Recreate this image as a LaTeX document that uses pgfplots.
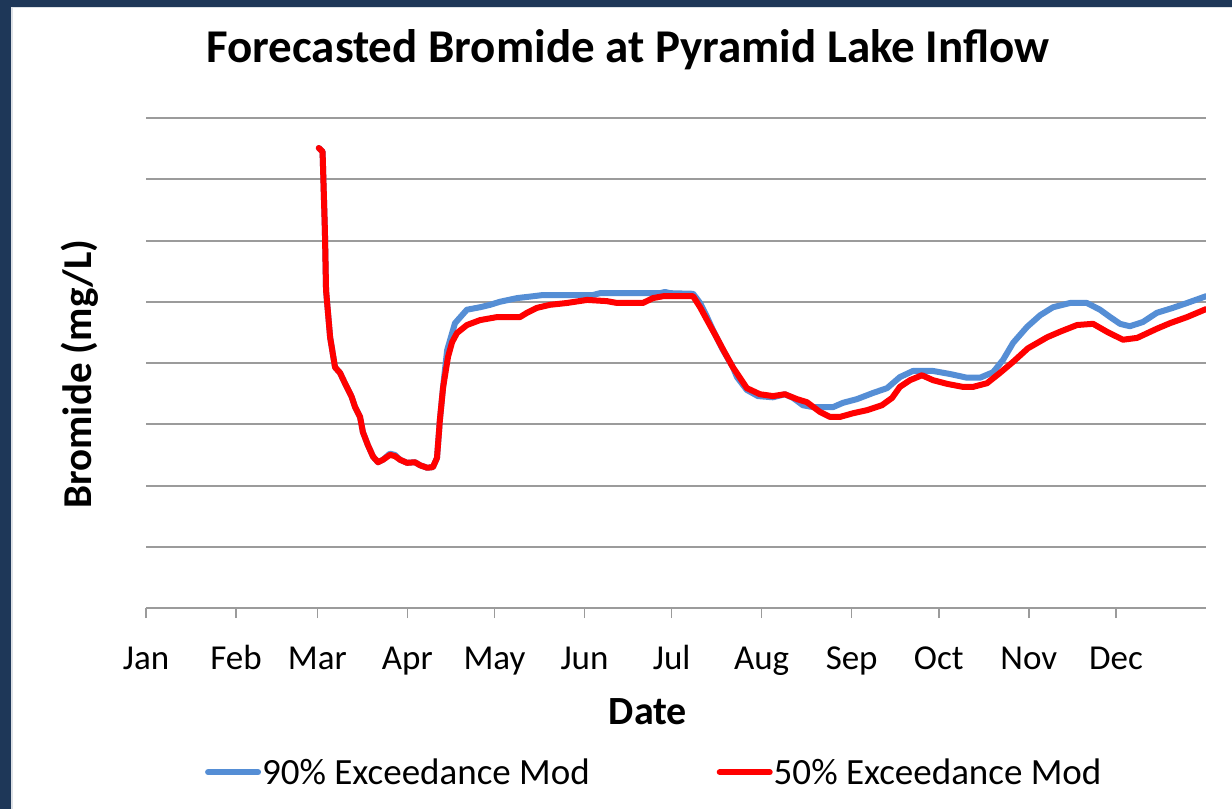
\documentclass[border=0pt]{standalone}
\usepackage{pgfplots}
\pgfplotsset{compat=1.18}
\usepackage{fontspec}
\setmainfont{Carlito}
\definecolor{navy}{RGB}{30,55,88}
\definecolor{serblue}{RGB}{85,142,213}
\definecolor{serred}{RGB}{255,0,0}
\definecolor{gridgray}{RGB}{155,155,155}

\pgfplotstableread{
d v
59.5 7.51
60.8 7.45
61.6 6.17
62.0 5.19
63.4 4.42
65.1 3.93
66.8 3.84
68.5 3.67
70.8 3.45
72.0 3.28
73.7 3.12
74.7 2.87
76.4 2.66
78.2 2.47
79.9 2.38
81.6 2.42
84.0 2.52
85.7 2.50
87.5 2.42
89.9 2.37
92.6 2.38
94.4 2.33
96.8 2.29
98.8 2.30
100.2 2.45
101.2 3.07
102.3 3.61
103.7 4.21
106.4 4.65
110.5 4.87
115.0 4.91
118.5 4.95
121.9 5.00
127.8 5.06
133.3 5.09
136.7 5.11
153.9 5.11
156.3 5.14
177.0 5.14
178.7 5.16
180.4 5.14
188.4 5.13
190.8 4.98
193.2 4.75
195.2 4.54
198.7 4.21
202.1 3.93
203.5 3.77
206.9 3.56
210.7 3.46
215.9 3.44
220.0 3.49
222.8 3.43
226.2 3.31
229.7 3.28
236.6 3.28
240.0 3.35
244.8 3.41
250.3 3.51
255.2 3.59
259.6 3.77
264.1 3.87
271.0 3.87
276.9 3.82
282.7 3.76
287.2 3.76
291.7 3.85
295.1 4.05
298.6 4.33
303.4 4.59
307.9 4.78
312.3 4.91
318.2 4.98
324.0 4.98
328.5 4.87
332.0 4.75
335.4 4.64
338.8 4.60
343.3 4.67
348.1 4.82
353.6 4.90
358.5 4.98
365.0 5.09
}\blueData

\pgfplotstableread{
d v
59.5 7.51
60.8 7.45
61.6 6.17
62.0 5.19
63.4 4.42
65.1 3.93
66.8 3.84
68.5 3.67
70.8 3.45
72.0 3.28
73.7 3.12
74.7 2.87
76.4 2.66
78.2 2.47
79.9 2.38
81.6 2.42
84.0 2.50
85.7 2.48
87.5 2.42
89.9 2.37
92.6 2.38
94.4 2.33
96.8 2.29
98.8 2.30
100.2 2.45
101.2 3.07
102.3 3.60
104.0 4.10
105.4 4.34
107.1 4.49
110.5 4.62
115.0 4.70
120.9 4.75
128.8 4.75
131.2 4.82
134.6 4.90
139.1 4.95
145.0 4.98
151.9 5.03
158.7 5.01
162.2 4.98
171.1 4.98
174.6 5.06
178.0 5.09
188.4 5.09
190.8 4.91
193.2 4.70
196.0 4.46
199.4 4.16
202.1 3.93
206.9 3.59
211.4 3.49
215.9 3.46
220.0 3.49
224.2 3.41
227.6 3.36
232.1 3.20
235.5 3.12
239.0 3.12
243.5 3.18
248.3 3.23
253.4 3.31
256.9 3.43
259.6 3.61
263.1 3.72
267.2 3.80
271.0 3.72
275.8 3.66
281.3 3.61
284.8 3.61
289.6 3.67
294.1 3.84
298.6 4.02
303.7 4.24
310.3 4.42
314.7 4.51
320.6 4.62
326.1 4.64
330.9 4.51
336.4 4.38
341.3 4.41
348.1 4.56
352.6 4.65
358.5 4.75
365.0 4.88
}\redData

\begin{document}
\begin{tikzpicture}
\path[use as bounding box] (0pt,0pt) rectangle (1232pt,809pt);
\fill[navy] (0pt,0pt) rectangle (1232pt,809pt);
\fill[white!85!navy] (11pt,0pt) rectangle (1232pt,802pt);
\fill[white] (12.5pt,0pt) rectangle (1232pt,800.5pt);
\begin{axis}[
  at={(146pt,201pt)}, anchor=south west,
  width=1060pt, height=490pt, scale only axis,
  xmin=0, xmax=365, ymin=0, ymax=8,
  axis x line*=bottom, axis y line*=left,
  y axis line style={draw=none},
  x axis line style={draw=gridgray, line width=2pt},
  xtick={0,31,59,90,120,151,181,212,243,273,304,334},
  xticklabels={Jan,Feb,Mar,Apr,May,Jun,Jul,Aug,Sep,Oct,Nov,Dec},
  tick align=outside,
  major tick length=10pt,
  xtick style={draw=gridgray, line width=1.5pt},
  ytick={0,1,...,8}, yticklabels={},
  ytick style={draw=none},
  ymajorgrids,
  grid style={draw=gridgray, line width=2pt},
  xticklabel style={font=\fontsize{35}{40}\selectfont, anchor=north, text height=24pt, text depth=8pt, yshift=-24pt},
  legend style={at={(0.479,-0.335)}, anchor=center, legend columns=2, draw=none, fill=none,
    font=\fontsize{37}{40}\selectfont,
    nodes={inner xsep=1pt},
    /tikz/every even column/.append style={column sep=126pt}},
  legend image code/.code={\draw[#1] (0pt,0pt) -- (50pt,0pt);},
]
\addplot[serblue, line width=6pt, line join=round, line cap=round] table[x=d,y=v] {\blueData};
\addlegendentry{90\% Exceedance Mod}
\addplot[serred, line width=6pt, line join=round, line cap=round] table[x=d,y=v] {\redData};
\addlegendentry{50\% Exceedance Mod}
\end{axis}
\node[font=\bfseries\fontsize{47}{50}\selectfont] at (628pt,759pt) {Forecasted Bromide at Pyramid Lake Inflow};
\node[font=\bfseries\fontsize{41}{44}\selectfont, rotate=90] at (80pt,435pt) {Bromide (mg/L)};
\node[font=\bfseries\fontsize{40}{44}\selectfont] at (648pt,97pt) {Date};
\end{tikzpicture}
\end{document}
